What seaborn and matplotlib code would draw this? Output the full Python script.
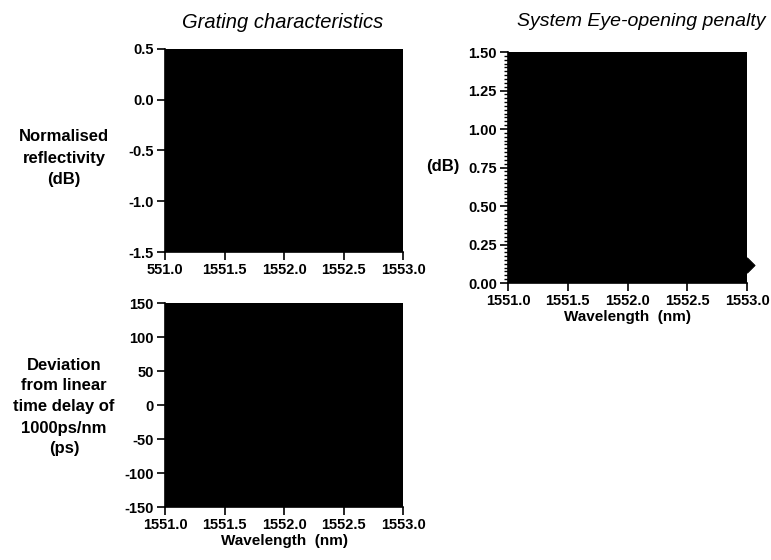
import matplotlib
matplotlib.use("Agg")
import matplotlib.pyplot as plt
import seaborn as sns
import pandas as pd
from matplotlib.ticker import MultipleLocator

# ---- data / labels ----
wl_ticks = [1551.0, 1551.5, 1552.0, 1552.5, 1553.0]
wl_labels_top = ["551.0", "1551.5", "1552.0", "1552.5", "1553.0"]
wl_labels = ["1551.0", "1551.5", "1552.0", "1552.5", "1553.0"]
refl_ticks = [0.5, 0.0, -0.5, -1.0, -1.5]
refl_labels = ["0.5", "0.0", "-0.5", "-1.0", "-1.5"]
delay_ticks = [150, 100, 50, 0, -50, -100, -150]
delay_labels = ["150", "100", "50", "0", "-50", "-100", "-150"]
pen_ticks = [0.0, 0.25, 0.5, 0.75, 1.0, 1.25, 1.5]
pen_labels = ["0.00", "0.25", "0.50", "0.75", "1.00", "1.25", "1.50"]
pen_wl = [1553.0]
pen_val = [0.12]

sns.set_theme(style="ticks")
plt.rcParams['font.family'] = ['Liberation Sans', 'DejaVu Sans']
plt.rcParams.update({"text.color": "black", "axes.labelcolor": "black",
                     "xtick.color": "black", "ytick.color": "black",
                     "xtick.labelcolor": "black", "ytick.labelcolor": "black"})

fig = plt.figure(figsize=(7.71, 5.6), dpi=100)
ax1 = fig.add_axes([0.214, 0.55, 0.309, 0.3625])
ax2 = fig.add_axes([0.214, 0.0946, 0.309, 0.364])
ax3 = fig.add_axes([0.659, 0.4946, 0.310, 0.4125])

def style(ax, yt, yl, xl):
    ax.set_facecolor("black")
    ax.set_xlim(wl_ticks[0], wl_ticks[-1])
    ax.set_ylim(min(yt), max(yt))
    ax.set_xticks(wl_ticks)
    ax.set_xticklabels(xl)
    ax.set_yticks(yt)
    ax.set_yticklabels(yl)
    for s in ["top", "right"]:
        ax.spines[s].set_visible(False)
    for s in ["left", "bottom"]:
        ax.spines[s].set_color("black")
        ax.spines[s].set_linewidth(1.2)
    ax.tick_params(axis="both", which="major", direction="out", length=6, width=1.2,
                   color="black", labelcolor="black", labelsize=10.5, pad=2)
    for lab in ax.get_xticklabels() + ax.get_yticklabels():
        lab.set_fontweight("bold")
    ax.set_xlabel("")
    ax.set_ylabel("")

style(ax1, refl_ticks, refl_labels, wl_labels_top)
style(ax2, delay_ticks, delay_labels, wl_labels)
style(ax3, pen_ticks, pen_labels, wl_labels)
ax3.yaxis.set_minor_locator(MultipleLocator(0.025))
ax3.tick_params(axis="y", which="minor", direction="out", length=3, width=1.0, color="black")

df = pd.DataFrame({"wl": pen_wl, "pen": pen_val})
sns.scatterplot(data=df, x="wl", y="pen", ax=ax3, marker="D", s=60, color="black",
                edgecolor="black", clip_on=False, legend=False)
ax3.set_xlabel("")
ax3.set_ylabel("")

ax2.set_xlabel("Wavelength  (nm)", fontsize=11, fontweight="bold", labelpad=1, color="black")
ax3.set_xlabel("Wavelength  (nm)", fontsize=11, fontweight="bold", labelpad=1, color="black")

fig.text(283 / 771, 1 - 22 / 560, "Grating characteristics", ha="center", va="center",
         fontsize=14.5, fontstyle="italic", color="black")
fig.text(641 / 771, 1 - 22 / 560, "System Eye-opening penalty", ha="center", va="center",
         fontsize=14, fontstyle="italic", color="black")

fig.text(64 / 771, 1 - 158 / 560, "Normalised\nreflectivity\n(dB)", ha="center", va="center",
         fontsize=12, fontweight="bold", linespacing=1.55, color="black")
fig.text(64 / 771, 1 - 407 / 560, "Deviation\nfrom linear\ntime delay of\n1000ps/nm\n(ps)",
         ha="center", va="center", fontsize=12, fontweight="bold", linespacing=1.5, color="black")
fig.text(443 / 771, 1 - 167 / 560, "(dB)", ha="center", va="center",
         fontsize=12, fontweight="bold", color="black")

fig.savefig("out.png", dpi=100, facecolor="white")
